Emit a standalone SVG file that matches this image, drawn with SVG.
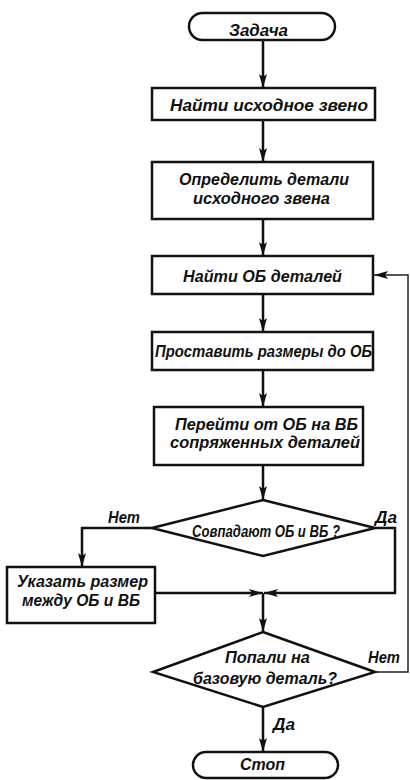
<svg xmlns="http://www.w3.org/2000/svg" width="410" height="780" viewBox="0 0 410 780">
<style>
.s{fill:#fff;stroke:#111;stroke-width:2.5}
.t{font-family:"Liberation Sans","DejaVu Sans",sans-serif;font-style:italic;font-weight:bold;font-size:17px;fill:#111}
.c{fill:none;stroke:#111;stroke-width:2.5}
.fb{fill:none;stroke:#222;stroke-width:1.5}
</style>
<defs>
<marker id="a" viewBox="0 0 14 8" refX="14" refY="4" markerWidth="14" markerHeight="8" markerUnits="userSpaceOnUse" orient="auto">
<path d="M0,0 L14,4 L0,8 L3,4 Z" fill="#111"/>
</marker>
</defs>
<rect width="410" height="780" fill="#fff"/>
<g id="connectors">
<path class="c" d="M263,40 V88" marker-end="url(#a)"/>
<path class="c" d="M263,120 V162" marker-end="url(#a)"/>
<path class="c" d="M263,219 V256" marker-end="url(#a)"/>
<path class="c" d="M263,294 V332" marker-end="url(#a)"/>
<path class="c" d="M263,370 V407" marker-end="url(#a)"/>
<path class="c" d="M263,465 V500" marker-end="url(#a)"/>
<path class="c" d="M152,528 H82 V567" marker-end="url(#a)"/>
<path class="c" d="M375,528 H395 V593 H264" marker-end="url(#a)"/>
<path class="c" d="M155,593 H263" marker-end="url(#a)"/>
<path class="c" d="M263,593 V632" marker-end="url(#a)"/>
<path class="fb" d="M375,672 H408 V275 H374" marker-end="url(#a)"/>
<path class="c" d="M263,707 V752" marker-end="url(#a)"/>
</g>
<g id="start">
<rect class="s" x="189" y="13" width="146" height="27" rx="13.5"/>
<text class="t" x="229" y="36" textLength="59" lengthAdjust="spacingAndGlyphs">Задача</text>
</g>
<g id="n1">
<rect class="s" x="152" y="88" width="223" height="32"/>
<text class="t" x="170" y="111" textLength="198" lengthAdjust="spacingAndGlyphs">Найти исходное звено</text>
</g>
<g id="n2">
<rect class="s" x="152" y="162" width="221" height="57"/>
<text class="t" x="179" y="185" textLength="170" lengthAdjust="spacingAndGlyphs">Определить детали</text>
<text class="t" x="193" y="204" textLength="137" lengthAdjust="spacingAndGlyphs">исходного звена</text>
</g>
<g id="n3">
<rect class="s" x="152" y="256" width="221" height="38"/>
<text class="t" x="183" y="282" textLength="159" lengthAdjust="spacingAndGlyphs">Найти ОБ деталей</text>
</g>
<g id="n4">
<rect class="s" x="152" y="332" width="221" height="38"/>
<text class="t" x="155" y="357" textLength="217" lengthAdjust="spacingAndGlyphs">Проставить размеры до ОБ</text>
</g>
<g id="n5">
<rect class="s" x="154" y="407" width="209" height="58"/>
<text class="t" x="175" y="430" textLength="183" lengthAdjust="spacingAndGlyphs">Перейти от ОБ на ВБ</text>
<text class="t" x="170" y="448" textLength="190" lengthAdjust="spacingAndGlyphs">сопряженных деталей</text>
</g>
<g id="d1">
<polygon class="s" points="263,500 375,528 263,556 152,528"/>
<text class="t" x="192" y="537" textLength="148" lengthAdjust="spacingAndGlyphs">Совпадают ОБ и ВБ ?</text>
</g>
<g id="n6">
<rect class="s" x="7" y="567" width="148" height="56"/>
<text class="t" x="17" y="587" textLength="131" lengthAdjust="spacingAndGlyphs">Указать размер</text>
<text class="t" x="22" y="606" textLength="118" lengthAdjust="spacingAndGlyphs">между ОБ и ВБ</text>
</g>
<g id="d2">
<polygon class="s" points="263,632 375,672 263,707 153,672"/>
<text class="t" x="225" y="663" textLength="85" lengthAdjust="spacingAndGlyphs">Попали на</text>
<text class="t" x="193" y="684" textLength="144" lengthAdjust="spacingAndGlyphs">базовую деталь?</text>
</g>
<g id="stop">
<rect class="s" x="193" y="752" width="145" height="26" rx="13"/>
<text class="t" x="240" y="770" textLength="45" lengthAdjust="spacingAndGlyphs">Стоп</text>
</g>
<g id="labels">
<text class="t" x="108" y="523" textLength="32" lengthAdjust="spacingAndGlyphs">Нет</text>
<text class="t" x="375" y="523" textLength="22" lengthAdjust="spacingAndGlyphs">Да</text>
<text class="t" x="368" y="663" textLength="32" lengthAdjust="spacingAndGlyphs">Нет</text>
<text class="t" x="273" y="730" textLength="22" lengthAdjust="spacingAndGlyphs">Да</text>
</g>
</svg>
